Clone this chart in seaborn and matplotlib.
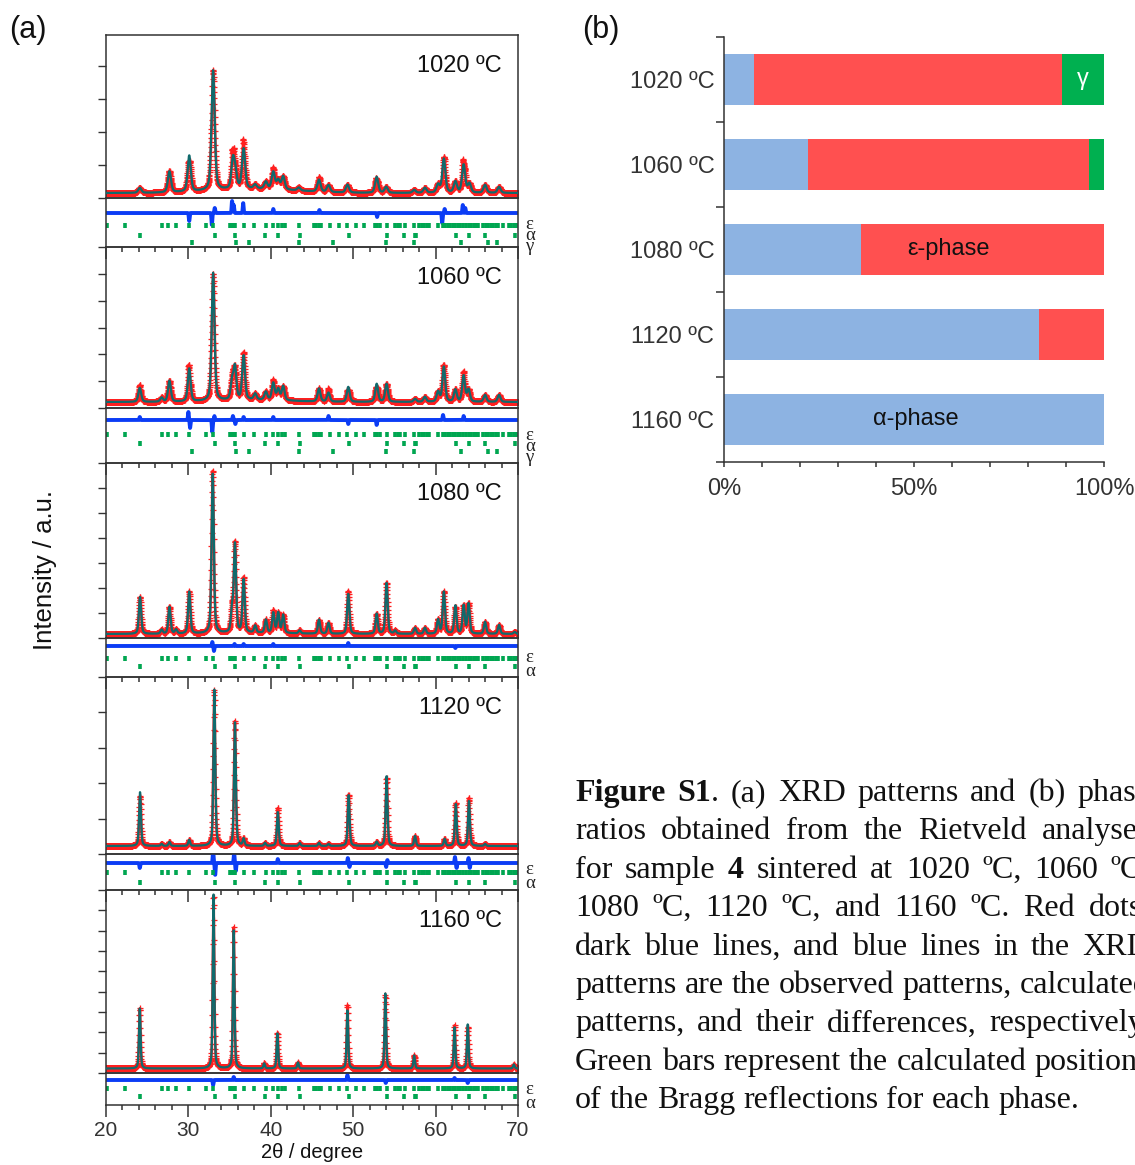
import numpy as np
import pandas as pd
import matplotlib
matplotlib.use("Agg")
import matplotlib.pyplot as plt
from matplotlib.ticker import MultipleLocator
import seaborn as sns

sns.set_style("ticks")
plt.rcParams["font.family"] = ["Liberation Sans", "DejaVu Sans"]
plt.rcParams["axes.linewidth"] = 1.1
plt.rcParams["axes.edgecolor"] = "#333333"
plt.rcParams["xtick.color"] = "#333333"
plt.rcParams["ytick.color"] = "#333333"

# ---------------------------------------------------------------- data
temperatures = ["1020 ºC", "1060 ºC", "1080 ºC", "1120 ºC", "1160 ºC"]

# (b) phase fractions from the Rietveld refinements, %
alpha_frac = [8, 22, 36, 83, 100]
eps_frac = [81, 74, 64, 17, 0]
gamma_frac = [11, 4, 0, 0, 0]

# Bragg reflection positions, degrees 2θ
eps_refl = [20.15, 22.3, 26.75, 27.55, 28.5, 30.1, 32.1, 33.0, 35.05, 35.25,
            35.45, 35.65, 36.7, 38.0, 39.4, 40.3, 40.9, 41.3, 41.7, 43.45,
            45.2, 45.5, 45.8, 46.1, 47.2, 48.3, 49.3, 50.3, 51.3, 52.6, 52.9,
            53.2, 54.1, 55.1, 55.4, 55.7, 56.3, 57.4, 58.0, 58.3, 58.6, 58.9,
            59.2, 60.3, 60.9, 61.2, 61.5, 61.8, 62.1, 62.4, 62.7, 63.0, 63.3,
            63.7, 64.0, 64.3, 64.6, 64.9, 65.2, 65.8, 66.1, 66.4, 66.7, 67.0,
            67.3, 67.6, 68.2, 68.9, 69.2, 69.5, 69.8]
alpha_refl = [24.13, 33.2, 35.65, 39.25, 40.9, 43.5, 49.5, 54.1, 56.2, 57.45,
              57.6, 62.45, 64.05, 66.05, 69.6]
gamma_refl = [30.4, 35.8, 37.4, 43.45, 47.6, 54.0, 57.4, 63.1, 66.3, 67.4]

# fitted peaks per temperature: position (2θ), height (a.u.), FWHM (2θ)
pos_1020 = [24.1, 27.7, 30.1, 33.0, 35.4, 35.7, 36.7, 38.1, 39.4, 40.3, 40.9,
            41.5, 43.4, 45.85, 47.0, 49.3, 52.85, 54.0, 57.4, 58.7, 60.3, 61.0,
            62.4, 63.4, 64.1, 66.0, 67.7]
hgt_1020 = [5, 21, 36, 120, 28, 15, 40, 4, 7, 17, 9, 13, 3, 12, 7, 8, 16, 6, 3,
            5, 8, 34, 11, 28, 9, 8, 6]
fwhm_1020 = 0.45

pos_1060 = [24.1, 26.75, 27.7, 30.1, 33.0, 35.3, 35.65, 36.7, 38.1, 39.4, 40.3,
            40.9, 41.5, 45.85, 47.0, 49.4, 52.85, 54.05, 57.5, 58.7, 60.3, 61.0,
            62.4, 63.4, 64.0, 66.0, 67.7]
hgt_1060 = [14, 4, 21, 33, 128, 18, 32, 44, 6, 8, 17, 11, 14, 13, 9, 15, 18, 18,
            3, 5, 10, 35, 12, 26, 12, 7, 7]
fwhm_1060 = 0.4

pos_1080 = [24.13, 26.75, 27.7, 28.5, 30.1, 32.95, 35.3, 35.65, 36.7, 38.1,
            39.4, 40.3, 40.9, 41.5, 43.5, 45.85, 47.0, 49.4, 52.85, 54.05, 55.1,
            57.5, 58.7, 60.3, 61.0, 62.4, 63.4, 64.0, 66.0, 67.7, 69.6]
hgt_1080 = [37, 4, 27, 4, 42, 160, 22, 88, 53, 7, 13, 20, 20, 18, 3, 14, 11, 40,
            20, 51, 3, 6, 6, 14, 42, 28, 28, 30, 12, 9, 2]
fwhm_1080 = 0.32

pos_1120 = [24.13, 26.75, 27.7, 30.1, 33.15, 35.65, 36.7, 39.3, 40.85, 43.5,
            45.85, 47.0, 49.45, 52.85, 54.05, 57.5, 61.1, 62.45, 64.05, 66.0]
hgt_1120 = [54, 2, 4, 6, 157, 124, 7, 3, 34, 3, 3, 2, 51, 4, 70, 10, 7, 42, 45, 2]
fwhm_1120 = 0.26

pos_1160 = [24.1, 33.05, 35.5, 39.2, 40.8, 43.3, 49.3, 53.9, 57.4, 62.3, 63.9, 69.5]
hgt_1160 = [60, 175, 138, 5, 35, 6, 58, 75, 13, 41, 44, 4]
fwhm_1160 = 0.22

# flat background level and a broad amorphous hump (position, height, FWHM)
bg_level = [5, 6, 4, 8, 4.5]
bg_hump = [(38, 4, 12), (38, 2, 10), (38, 1, 10), (38, 0, 10), (38, 0, 10)]

# observed − calculated residual features: position, amplitude
dpos_1020 = [30.1, 32.85, 33.2, 35.3, 35.5, 36.65, 40.3, 45.9, 52.9, 60.8, 61.1, 63.3, 63.6]
damp_1020 = [-8, -12, 5, 12, 8, 10, 4, 3, -4, -10, 4, 8, 5]
dpos_1060 = [24.1, 30.0, 30.2, 32.9, 33.15, 35.4, 35.7, 36.7, 40.3, 47.0, 49.4, 52.85, 60.9, 63.4]
damp_1060 = [3, 8, -8, -12, 4, 4, -4, 3, 3, 4, -4, -5, 5, 4]
dpos_1080 = [32.9, 33.1, 35.6, 36.7, 40.3, 49.4, 62.4]
damp_1080 = [4, -5, 2, 2, 2, 3, -2]
dpos_1120 = [24.1, 33.0, 33.25, 35.55, 35.75, 40.85, 49.35, 49.55, 54.0, 54.15, 62.35, 62.55, 64.0, 64.15]
damp_1120 = [-5, 12, -12, 10, -8, 4, 5, -4, -4, 3, 6, -5, 5, -5]
dpos_1160 = [33.0, 35.5, 49.3, 53.95, 62.3, 63.9]
damp_1160 = [-5, 3, 5, -3, 2, -3]

peak_sets = [(pos_1020, hgt_1020, fwhm_1020), (pos_1060, hgt_1060, fwhm_1060),
             (pos_1080, hgt_1080, fwhm_1080), (pos_1120, hgt_1120, fwhm_1120),
             (pos_1160, hgt_1160, fwhm_1160)]
diff_sets = [(dpos_1020, damp_1020), (dpos_1060, damp_1060), (dpos_1080, damp_1080),
             (dpos_1120, damp_1120), (dpos_1160, damp_1160)]
phases_shown = [("eps", "alpha", "gamma"), ("eps", "alpha", "gamma"),
                ("eps", "alpha"), ("eps", "alpha"), ("eps", "alpha")]

# ---------------------------------------------------------------- helpers
two_theta = np.round(np.arange(20.0, 70.0001, 0.02), 3)


def pseudo_voigt(x, pos, hgt, fwhm, eta=0.45):
    y = np.zeros_like(x)
    fw = np.broadcast_to(fwhm, np.shape(pos))
    for p, h, w in zip(pos, hgt, fw):
        u = (x - p) / w
        y += h * (eta / (1 + 4 * u ** 2) + (1 - eta) * np.exp(-4 * np.log(2) * u ** 2))
    return y


def residual(x, pos, amp, fwhm=0.12):
    y = np.zeros_like(x)
    for p, a in zip(pos, amp):
        y += a * np.exp(-4 * np.log(2) * ((x - p) / fwhm) ** 2)
    return y


# ---------------------------------------------------------------- figure
FW, FH = 1135, 1165
fig = plt.figure(figsize=(FW / 100, FH / 100), dpi=100)
fig.patch.set_facecolor("white")


def px_axes(left, top, right, bottom):
    ax = fig.add_axes([left / FW, 1 - bottom / FH, (right - left) / FW, (bottom - top) / FH])
    ax.set_facecolor("none")
    return ax


RED, TEAL, BLUE, GREEN = "#ff1f1f", "#106a6c", "#0b3cf5", "#00a651"
XL, XR = 106, 518
# (top, separator, bottom, y-tick step) of each stacked pattern, pixels
stack = [(35, 198, 247, 33.0), (247, 408, 463, 26.8), (463, 638, 677, 25.0),
         (677, 854, 890, 35.4), (890, 1073, 1105, 20.33)]
diff_base = [34, 43, 31, 27, 25]
row_y = [dict(eps=22, alpha=12, gamma=4.5), dict(eps=28.7, alpha=20, gamma=12),
         dict(eps=19, alpha=11), dict(eps=18, alpha=8), dict(eps=16.7, alpha=9)]
lab_y = [dict(eps=22, alpha=11, gamma=0), dict(eps=28, alpha=16, gamma=5),
         dict(eps=19, alpha=6), dict(eps=21, alpha=7), dict(eps=15, alpha=1)]
refl = dict(eps=eps_refl, alpha=alpha_refl, gamma=gamma_refl)
symbol = dict(eps="ε", alpha="α", gamma="γ")

for i, (top, sep, bot, step) in enumerate(stack):
    pos, hgt, fw = peak_sets[i]
    hp, hh, hw = bg_hump[i]
    background = bg_level[i] + pseudo_voigt(two_theta, [hp], [hh], hw, eta=0.0)
    calc = background + pseudo_voigt(two_theta, pos, hgt, fw)
    diff = residual(two_theta, *diff_sets[i])
    obs = calc + diff

    ax = px_axes(XL, top, XR, sep)
    ax.plot(two_theta, obs, ls="none", marker="+", ms=4.0, mew=0.9, color=RED, zorder=2)
    sns.lineplot(x=two_theta, y=obs, ax=ax, color=RED, linewidth=1.8,
                 estimator=None, sort=False, legend=False, zorder=2)
    sns.lineplot(x=two_theta, y=calc, ax=ax, color=TEAL, linewidth=1.6,
                 estimator=None, sort=False, legend=False, zorder=3)
    ax.set_xlim(20, 70)
    ax.set_ylim(0, sep - top)
    ax.yaxis.set_major_locator(MultipleLocator(step))
    ax.tick_params(axis="y", which="major", direction="out", length=5.5, width=1.0,
                   left=True, labelleft=False)
    ax.tick_params(axis="x", bottom=False, labelbottom=False)
    ax.set_xlabel("")
    ax.set_ylabel("")
    ax.annotate(temperatures[i], xy=(0.961, 1), xycoords="axes fraction",
                xytext=(0, -22), textcoords="offset points", ha="right",
                va="center", fontsize=17, color="#111111")

    sub = px_axes(XL, sep, XR, bot)
    sns.lineplot(x=two_theta, y=diff_base[i] + diff, ax=sub, color=BLUE,
                 linewidth=2.8, estimator=None, sort=False, legend=False)
    for ph in phases_shown[i]:
        r = refl[ph]
        sub.plot(r, [row_y[i][ph]] * len(r), ls="none", marker="|", ms=3.6,
                 mew=2.6, color=GREEN)
        sub.annotate(symbol[ph], xy=(1, lab_y[i][ph]), xycoords=("axes fraction", "data"),
                     xytext=(5, 0), textcoords="offset points", ha="left", va="center",
                     fontsize=13.5, family=["Liberation Serif", "DejaVu Serif"],
                     color="#222222", annotation_clip=False)
    sub.set_xlim(20, 70)
    sub.set_ylim(0, bot - sep)
    sub.set_yticks([])
    sub.xaxis.set_major_locator(MultipleLocator(10))
    sub.xaxis.set_minor_locator(MultipleLocator(2))
    sub.tick_params(axis="x", which="major", direction="out", length=8.5, width=1.1)
    sub.tick_params(axis="x", which="minor", direction="out", length=3.6, width=1.1)
    sub.tick_params(axis="x", labelbottom=(i == len(stack) - 1), labelsize=15, pad=3)
    sub.set_xlabel("")
    sub.set_ylabel("")

fig.text((XL + XR) / 2 / FW, 1 - 1153 / FH, "2θ / degree", ha="center", va="center",
         fontsize=14.5, color="#111111")
fig.text(45 / FW, 1 - 570 / FH, "Intensity / a.u.", rotation=90, ha="center",
         va="center", fontsize=18.5, color="#111111")
fig.text(9 / FW, 1 - 30 / FH, "(a)", ha="left", va="center", fontsize=22, color="#111111")
fig.text(582 / FW, 1 - 30 / FH, "(b)", ha="left", va="center", fontsize=22, color="#111111")

# ---------------------------------------------------------------- (b) phase ratios
phase_df = pd.DataFrame({"temperature": temperatures, "alpha": alpha_frac,
                         "epsilon": eps_frac, "gamma": gamma_frac})
phase_df["alpha_eps"] = phase_df["alpha"] + phase_df["epsilon"]
phase_df["total"] = phase_df["alpha_eps"] + phase_df["gamma"]

axb = px_axes(724, 37, 1104, 462)
for col, colour in [("total", "#00b050"), ("alpha_eps", "#ff5050"), ("alpha", "#8db3e2")]:
    sns.barplot(data=phase_df, x=col, y="temperature", orient="h", color=colour,
                saturation=1, width=0.59, errorbar=None, edgecolor="none",
                linewidth=0, ax=axb)
axb.set_xlim(0, 100)
axb.set_ylim(4.5, -0.5)
axb.set_xlabel("")
axb.set_ylabel("")
axb.set_xticks([0, 50, 100])
axb.set_xticklabels(["0%", "50%", "100%"])
axb.xaxis.set_minor_locator(MultipleLocator(10))
axb.set_yticks(range(len(temperatures)))
axb.set_yticklabels(temperatures)
axb.set_yticks(np.arange(-0.5, len(temperatures), 1.0), minor=True)
axb.tick_params(axis="y", which="major", length=0, pad=7, labelsize=17)
axb.tick_params(axis="y", which="minor", length=6, width=1.1, direction="out")
axb.tick_params(axis="x", which="both", length=3.6, width=1.1, direction="out",
                labelsize=17, pad=8)
sns.despine(ax=axb, top=True, right=True)
axb.text(94.5, 0, "γ", color="white", ha="center", va="center", fontsize=17)
axb.text(59, 2, "ε-phase", color="#111111", ha="center", va="center", fontsize=17)
axb.text(50.5, 4, "α-phase", color="#111111", ha="center", va="center", fontsize=17)

# ---------------------------------------------------------------- caption
caption = [
    "**Figure** **S1**. (a) XRD patterns and (b) phase",
    "ratios obtained from the Rietveld analyses",
    "for sample **4** sintered at 1020 ºC, 1060 ºC,",
    "1080 ºC, 1120 ºC, and 1160 ºC. Red dots,",
    "dark blue lines, and blue lines in the XRD",
    "patterns are the observed patterns, calculated",
    "patterns, and their differences, respectively.",
    "Green bars represent the calculated positions",
    "of the Bragg reflections for each phase.",
]
CAP_X, CAP_RIGHT, CAP_Y0, CAP_DY, CAP_FS = 575, 1150, 801, 38.4, 23
serif = ["Liberation Serif", "DejaVu Serif"]
renderer = fig.canvas.get_renderer()
space_px = 0.25 * CAP_FS * 100 / 72

for li, line in enumerate(caption):
    words = []
    for w in line.split(" "):
        parts = w.split("**")
        segs = []
        for k, s in enumerate(parts):
            if s:
                t = fig.text(0, 0, s, fontsize=CAP_FS, family=serif,
                             fontweight="bold" if k % 2 else "normal",
                             ha="left", va="baseline", color="#111111")
                segs.append((t, t.get_window_extent(renderer).width))
        words.append(segs)
    widths = [sum(wd for _, wd in segs) for segs in words]
    if li < len(caption) - 1 and len(words) > 1:
        gap = (CAP_RIGHT - CAP_X - sum(widths)) / (len(words) - 1)
    else:
        gap = space_px
    xpos = CAP_X
    ybase = 1 - (CAP_Y0 + li * CAP_DY) / FH
    for segs, wsum in zip(words, widths):
        xs = xpos
        for t, wd in segs:
            t.set_position((xs / FW, ybase))
            xs += wd
        xpos += wsum + gap

fig.savefig("out.png", dpi=100, facecolor="white")
